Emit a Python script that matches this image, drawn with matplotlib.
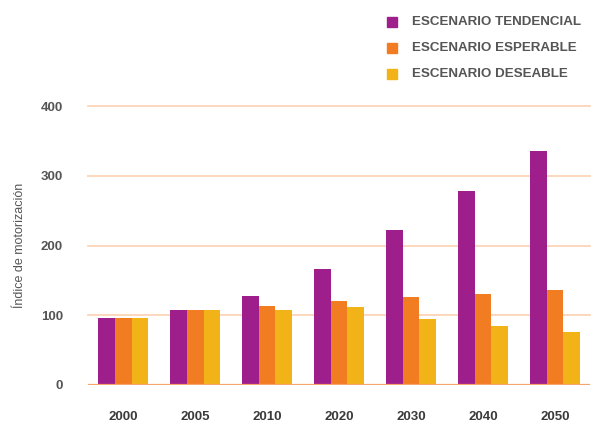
import matplotlib
matplotlib.use("Agg")
import matplotlib.pyplot as plt
import numpy as np

years = ["2000", "2005", "2010", "2020", "2030", "2040", "2050"]
tendencial = [96, 108, 128, 166, 222, 278, 335]
esperable = [96, 108, 113, 120, 126, 130, 136]
deseable = [96, 108, 108, 112, 95, 85, 76]
series_names = ["ESCENARIO TENDENCIAL", "ESCENARIO ESPERABLE", "ESCENARIO DESEABLE"]
colors = ["#9e1f8c", "#f27c22", "#f1b317"]
yticks = [0, 100, 200, 300, 400]

plt.rcParams['font.family'] = ['Liberation Sans', 'DejaVu Sans']

fig = plt.figure(figsize=(5.95, 4.22), dpi=100)
ax = fig.add_axes([0.148, 0.0877, 0.844, 0.661])

x = np.arange(len(years))
w = 0.23
for i, (vals, c) in enumerate(zip([tendencial, esperable, deseable], colors)):
    ax.bar(x + (i - 1) * w, vals, width=w, color=c, zorder=3)

ax.set_xlim(-0.49, 6.49)
ax.set_ylim(0, 400)
ax.set_yticks(yticks)
ax.set_yticklabels([str(t) for t in yticks], fontsize=9.5, fontweight='bold', color='#555555')
ax.set_xticks(x)
ax.set_xticklabels(years, fontsize=9.5, fontweight='bold', color='#3a3a3a')
ax.tick_params(axis='both', length=0)
ax.tick_params(axis='y', pad=18)
ax.tick_params(axis='x', pad=19)
for t in yticks[1:]:
    ax.axhline(t, color='#fcd6b8', lw=1.3, zorder=1, clip_on=False)
ax.axhline(0, color='#f6a56c', lw=1.6, zorder=4)
for s in ax.spines.values():
    s.set_visible(False)

ax.set_ylabel("Índice de motorización", fontsize=9, color='#555555', labelpad=11)

# legend
ly = [0.948, 0.887, 0.825]
for name, c, yy in zip(series_names, colors, ly):
    fig.patches.append(plt.Rectangle((0.651, yy - 0.012), 0.017, 0.024, transform=fig.transFigure,
                                     color=c, figure=fig))
    fig.text(0.693, yy, name, fontsize=9.6, fontweight='bold', color='#555555', va='center', ha='left')

fig.savefig("out.png", dpi=100)
